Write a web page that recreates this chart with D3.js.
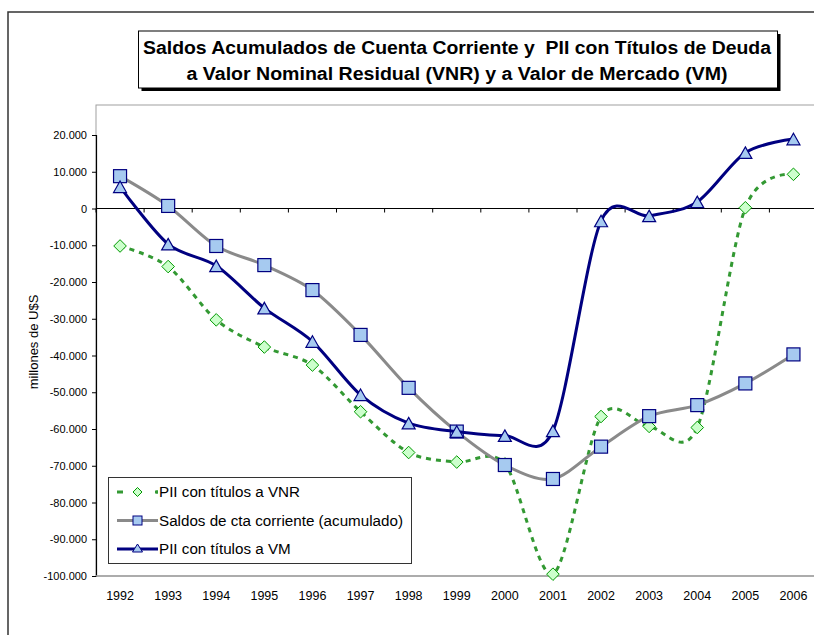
<!DOCTYPE html>
<html><head><meta charset="utf-8">
<script src="https://cdn.jsdelivr.net/npm/d3@7"></script>
<style>
html,body{margin:0;padding:0;background:#fff;}
svg{display:block;font-family:"Liberation Sans",Arial,sans-serif;}
</style></head>
<body>
<svg id="chart" width="814" height="635"></svg>
<script>
const years = ["1992","1993","1994","1995","1996","1997","1998","1999","2000","2001","2002","2003","2004","2005","2006"];
const vnrValues = [-10200,-15800,-30300,-37700,-42600,-55300,-66400,-69000,-69500,-99500,-56600,-59300,-59600,200,9300];
const saldosValues = [8800,700,-10200,-15400,-22200,-34400,-48800,-60700,-69800,-73600,-64800,-56500,-53500,-47600,-39700];
const vmValues = [5900,-9700,-15600,-27100,-36200,-50700,-58400,-60700,-61800,-60500,-3400,-2000,1800,15200,18900];
const yTicks = [20000,10000,0,-10000,-20000,-30000,-40000,-50000,-60000,-70000,-80000,-90000,-100000];
const seriesNames = ["PII con títulos a VNR","Saldos de cta corriente (acumulado)","PII con títulos a VM"];
const titleLines = ["Saldos Acumulados de Cuenta Corriente y  PII con Títulos de Deuda","a Valor Nominal Residual (VNR) y a Valor de Mercado (VM)"];
const yAxisTitle = "millones de U$S";

const svg = d3.select("#chart");
const loc = d3.formatLocale({decimal:",",thousands:".",grouping:[3],currency:["",""],minus:"-"});
const fmt = loc.format(",.0f");

// outer frame
svg.append("rect").attr("x",8).attr("y",12).attr("width",900).attr("height",700)
  .attr("fill","#fff").attr("stroke","#333").attr("stroke-width",1.5);

const plotL = 96, plotT = 105, plotB = 576;
const x = d3.scaleBand().domain(years).range([96, 96 + 15*48.1]).paddingInner(0).paddingOuter(0);
const y = d3.scaleLinear().domain([-100000, 20000]).range([576, 135]);
const cx = d => x(d) + x.bandwidth()/2;

// plot area frame (gray)
svg.append("rect").attr("x",plotL).attr("y",plotT).attr("width",800).attr("height",plotB-plotT)
  .attr("fill","#fff").attr("stroke","#a0a0a0").attr("stroke-width",1);

// Title box
const tb = {x:138.5,y:31,w:639,h:57};
svg.append("rect").attr("x",tb.x+3).attr("y",tb.y+3).attr("width",tb.w).attr("height",tb.h).attr("fill","#000");
svg.append("rect").attr("x",tb.x).attr("y",tb.y).attr("width",tb.w).attr("height",tb.h).attr("fill","#fff").attr("stroke","#000").attr("stroke-width",1);
const tLens = [628, 541];
const tBase = [54.3, 79.8];
titleLines.forEach((t,i)=>{
  svg.append("text").attr("x",457).attr("y",tBase[i]).attr("text-anchor","middle")
    .attr("font-weight","bold").attr("font-size",18).attr("fill","#000")
    .attr("textLength",tLens[i]).attr("lengthAdjust","spacingAndGlyphs")
    .style("white-space","pre").text(t);
});

// Y axis
const yAxis = d3.axisLeft(y).tickValues(yTicks).tickFormat(fmt).tickSize(4).tickPadding(5);
const gy = svg.append("g").attr("transform",`translate(${plotL},0)`).call(yAxis);
gy.select(".domain").attr("stroke","#000").attr("stroke-width",1.2);
gy.selectAll(".tick line").attr("stroke","#000");
gy.selectAll(".tick text").attr("font-size",11).attr("fill","#000").attr("font-family","Liberation Sans, Arial, sans-serif");

// Y axis title
svg.append("text").attr("transform","translate(37.5,342) rotate(-90)").attr("text-anchor","middle")
  .attr("font-size",13).attr("fill","#000").text(yAxisTitle);

// X axis line at zero with ticks at category boundaries
const gx0 = svg.append("g").attr("transform",`translate(0,${y(0)})`);
gx0.append("line").attr("x1",plotL).attr("x2",814).attr("y1",0).attr("y2",0).attr("stroke","#000").attr("stroke-width",1.2);
gx0.selectAll("line.tk").data(years).enter().append("line").attr("class","tk")
  .attr("x1",d=>x(d)).attr("x2",d=>x(d)).attr("y1",0).attr("y2",4).attr("stroke","#000");
// bottom labels
const gxb = svg.append("g").attr("transform",`translate(0,${plotB})`).call(d3.axisBottom(x).tickSize(0).tickPadding(0));
gxb.select(".domain").remove();
gxb.selectAll(".tick text").attr("font-size",12.5).attr("fill","#000").attr("dy",null).attr("y",23.5)
  .attr("font-family","Liberation Sans, Arial, sans-serif");
svg.append("line").attr("x1",plotL).attr("x2",814).attr("y1",plotB).attr("y2",plotB).attr("stroke","#a0a0a0").attr("stroke-width",1.5);

const line = d3.line().x((d,i)=>cx(years[i])).y(d=>y(d)).curve(d3.curveCardinal.tension(0.1));

const navy = "#000080", lightBlue = "#A6CAF0", green = "#339933", greenStroke = "#009900", greenFill = "#CCFFCC", gray = "#8a8a8a";

// Series 1: VNR
svg.append("path").datum(vnrValues).attr("d",line).attr("fill","none").attr("stroke",green)
  .attr("stroke-width",3).attr("stroke-dasharray","5,5");
const diamond = s => `M0,${-s}L${s},0L0,${s}L${-s},0Z`;
svg.selectAll("path.dia").data(vnrValues).enter().append("path").attr("class","dia")
  .attr("d",diamond(6.3)).attr("transform",(d,i)=>`translate(${cx(years[i])},${y(d)})`)
  .attr("fill",greenFill).attr("stroke",greenStroke).attr("stroke-width",1);

// Series 2: Saldos
svg.append("path").datum(saldosValues).attr("d",line).attr("fill","none").attr("stroke",gray).attr("stroke-width",3);
svg.selectAll("rect.sq").data(saldosValues).enter().append("rect").attr("class","sq")
  .attr("x",(d,i)=>cx(years[i])-6.5).attr("y",d=>y(d)-6.5).attr("width",13).attr("height",13)
  .attr("fill",lightBlue).attr("stroke",navy).attr("stroke-width",1.2);

// Series 3: VM
svg.append("path").datum(vmValues).attr("d",line).attr("fill","none").attr("stroke",navy).attr("stroke-width",3);
const tri = (w,h) => `M0,${-h/2}L${w/2},${h/2}L${-w/2},${h/2}Z`;
svg.selectAll("path.tri").data(vmValues).enter().append("path").attr("class","tri")
  .attr("d",tri(13,11.5)).attr("transform",(d,i)=>`translate(${cx(years[i])},${y(d)})`)
  .attr("fill",lightBlue).attr("stroke",navy).attr("stroke-width",1.2);

// Legend
const lg = svg.append("g");
lg.append("rect").attr("x",108.5).attr("y",477.5).attr("width",303).attr("height",86)
  .attr("fill","#fff").attr("stroke","#333").attr("stroke-width",1);
const ly = [492, 520.5, 549];
// VNR
lg.append("line").attr("x1",117).attr("x2",158).attr("y1",ly[0]).attr("y2",ly[0]).attr("stroke",green).attr("stroke-width",3).attr("stroke-dasharray","6,33");
lg.append("line").attr("x1",155).attr("x2",158).attr("y1",ly[0]).attr("y2",ly[0]).attr("stroke",green).attr("stroke-width",3);
lg.append("path").attr("d",diamond(4.5)).attr("transform",`translate(137.5,${ly[0]})`).attr("fill",greenFill).attr("stroke",greenStroke);
// Saldos
lg.append("line").attr("x1",117).attr("x2",158).attr("y1",ly[1]).attr("y2",ly[1]).attr("stroke",gray).attr("stroke-width",3);
lg.append("rect").attr("x",133).attr("y",ly[1]-4.5).attr("width",9).attr("height",9).attr("fill",lightBlue).attr("stroke",navy);
// VM
lg.append("line").attr("x1",117).attr("x2",158).attr("y1",ly[2]).attr("y2",ly[2]).attr("stroke",navy).attr("stroke-width",3);
lg.append("path").attr("d",tri(10,8)).attr("transform",`translate(137.5,${ly[2]-1})`).attr("fill",lightBlue).attr("stroke",navy);
seriesNames.forEach((n,i)=>{
  lg.append("text").attr("x",159).attr("y",ly[i]).attr("dy","0.36em").attr("font-size",15.2).attr("fill","#000").text(n);
});
</script>
</body></html>
